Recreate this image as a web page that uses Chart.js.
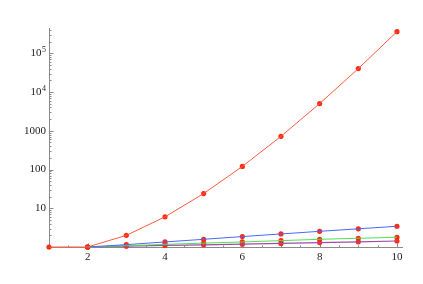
<!DOCTYPE html>
<html><head><meta charset="utf-8">
<script src="https://cdn.jsdelivr.net/npm/chart.js@4"></script>
<style>html,body{margin:0;padding:0;background:#fff}</style>
</head><body><canvas id="c" width="423" height="284"></canvas>
<script>
const xValues=[1,2,3,4,5,6,7,8,9,10];
const redSeries=[1,1,2,6,24,120,720,5040,40320,362880];
const blueSeries=[null,1,1.15,1.35,1.58,1.86,2.17,2.54,2.95,3.43];
const greenSeries=[null,1,1.08,1.17,1.26,1.35,1.46,1.58,1.68,1.78];
const purpleSeries=[null,1,1.05,1.1,1.14,1.18,1.24,1.3,1.36,1.43];
const xTickValues=[2,4,6,8,10];
const yTickValues=[10,100,1000,10000,100000];
const yTickBase=["10","100","1000","10","10"];
const yTickExp=["","","","4","5"];

const pts=a=>xValues.map((x,i)=>({x:x,y:a[i]}));
const lineDs=(a,c,w)=>({data:pts(a),borderColor:c,borderWidth:w,pointRadius:0,fill:false,clip:false,spanGaps:false});
const markDs=a=>({data:pts(a),showLine:false,pointRadius:2.6,pointBackgroundColor:'#ff2a12',pointBorderWidth:0,clip:false});

const axesPlugin={id:'axes',beforeDatasetsDraw(chart){
  const ctx=chart.ctx,xs=chart.scales.x,ys=chart.scales.y;
  const x0=Math.round(xs.getPixelForValue(1))+0.5, y0=Math.round(ys.getPixelForValue(1))+0.5;
  const xr=xs.right, yt=ys.top;
  ctx.save();
  ctx.strokeStyle='#8a8a8a';ctx.lineWidth=1;
  ctx.beginPath();ctx.moveTo(x0-2,y0);ctx.lineTo(xr,y0);ctx.moveTo(x0,y0+2);ctx.lineTo(x0,yt);ctx.stroke();
  ctx.beginPath();
  for(let v=1;v<=10.01;v+=0.5){const p=Math.round(xs.getPixelForValue(v))+0.5;const L=(Math.abs(v%2)<1e-6)?4:2;ctx.moveTo(p,y0);ctx.lineTo(p,y0-L);}
  for(let k=0;k<=5;k++){for(let m=1;m<=9;m++){const v=m*Math.pow(10,k);if(v>ys.max)break;const p=Math.round(ys.getPixelForValue(v))+0.5;const L=m===1?4:2;ctx.moveTo(x0,p);ctx.lineTo(x0+L,p);}}
  ctx.stroke();
  ctx.fillStyle='#222';ctx.font='11px "Liberation Serif"';
  ctx.textAlign='center';ctx.textBaseline='middle';
  xTickValues.forEach(v=>{ctx.fillText(String(v),xs.getPixelForValue(v),y0+9.5);});
  ctx.textBaseline='middle';
  yTickValues.forEach((v,i)=>{
    const p=ys.getPixelForValue(v);const right=x0-3.5;
    if(yTickExp[i]){
      ctx.font='8px "Liberation Serif"';ctx.textAlign='right';
      const ew=ctx.measureText(yTickExp[i]).width;
      ctx.fillText(yTickExp[i],right,p-3.5);
      ctx.font='11px "Liberation Serif"';
      ctx.fillText(yTickBase[i],right-ew-0.5,p);
    }else{
      ctx.font='11px "Liberation Serif"';ctx.textAlign='right';
      ctx.fillText(yTickBase[i],right,p);
    }
  });
  ctx.restore();
}};

new Chart(document.getElementById('c'),{
  type:'line',
  data:{datasets:[
    lineDs(redSeries,'#ff5a3c',1),
    lineDs(blueSeries,'#4a66ff',1),
    lineDs(greenSeries,'#4fe04f',1),
    lineDs(purpleSeries,'#a24aa8',1.2),
    markDs(redSeries),markDs(blueSeries),markDs(greenSeries),markDs(purpleSeries)
  ]},
  options:{responsive:false,devicePixelRatio:1,animation:false,
    layout:{padding:{left:49,right:20,top:28,bottom:37}},
    plugins:{legend:{display:false},tooltip:{enabled:false}},
    scales:{
      x:{type:'linear',min:1,max:10.156,display:false},
      y:{type:'logarithmic',min:1,max:Math.pow(10,5.654),display:false}
    }},
  plugins:[axesPlugin]
});
</script></body></html>
